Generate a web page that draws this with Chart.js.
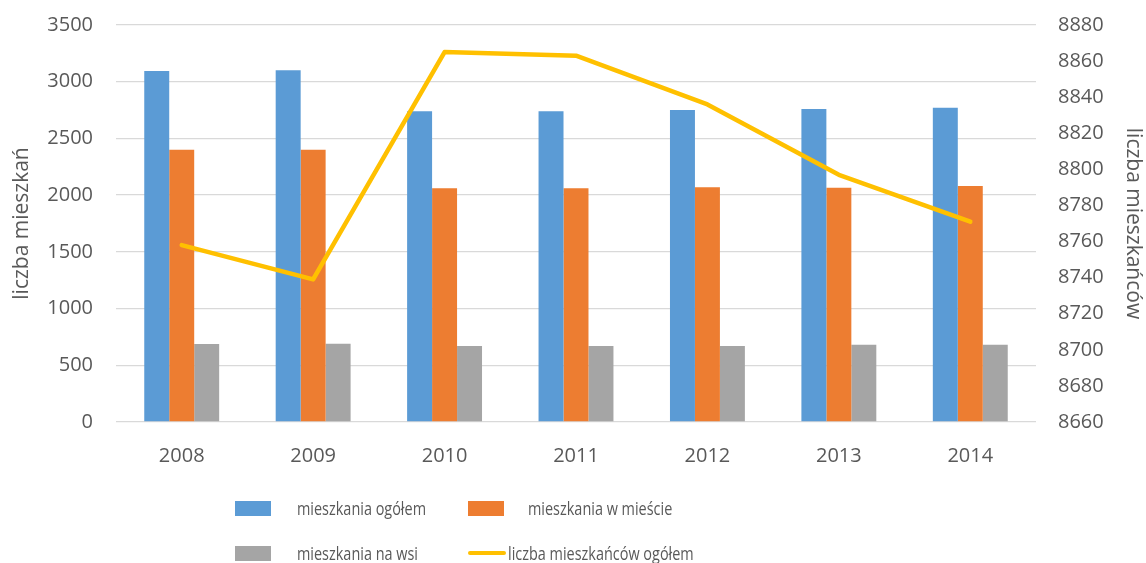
<!DOCTYPE html>
<html>
<head>
<meta charset="utf-8">
<script src="https://cdn.jsdelivr.net/npm/chart.js@4"></script>
<style>
  html, body { margin: 0; padding: 0; background: #fff; overflow: hidden; }
  #wrap { position: relative; width: 1146px; height: 563px; }
  #legend {
    position: absolute; left: 235px; top: 493px;
    display: grid; grid-template-columns: 233px 300px; grid-auto-rows: 45px;
    font-family: "Open Sans", sans-serif; font-size: 19px; color: #595959;
  }
  .item { display: flex; align-items: center; height: 30px; white-space: nowrap; }
  .sw { display: inline-block; width: 36px; height: 15px; margin-right: 26px; flex: none; }
  .ln { display: inline-block; width: 38px; height: 4px; border-radius: 2px; margin-right: 2px; flex: none; }
  .txt { display: inline-block; transform: scaleX(0.76); transform-origin: left center; }
</style>
</head>
<body>
<div id="wrap">
  <canvas id="myChart" width="1146" height="563"></canvas>
  <div id="legend"></div>
</div>
<script>
let years = ['2008', '2009', '2010', '2011', '2012', '2013', '2014']
let ogolem = [3095, 3100, 2740, 2740, 2750, 2760, 2770]
let wMiescie = [2400, 2400, 2060, 2060, 2070, 2065, 2080]
let naWsi = [688, 690, 671, 670, 670, 680, 680]
let mieszkancy = [8758, 8739, 8865, 8863, 8836, 8797, 8771]

let leftTicks = { min: 0, max: 3500, step: 500 }
let rightTicks = { min: 8660, max: 8880, step: 20 }

const grey = '#595959'
const tickFont = { family: 'Open Sans', size: 20 }
const plain = (v) => String(v)

const data = {
    labels: years,
    datasets: [{
        label: 'mieszkania ogółem',
        data: ogolem,
        backgroundColor: '#5B9BD5',
        yAxisID: 'y',
        order: 1
    }, {
        label: 'mieszkania w mieście',
        data: wMiescie,
        backgroundColor: '#ED7D31',
        yAxisID: 'y',
        order: 1
    }, {
        label: 'mieszkania na wsi',
        data: naWsi,
        backgroundColor: '#A5A5A5',
        yAxisID: 'y',
        order: 1
    }, {
        type: 'line',
        label: 'liczba mieszkańców ogółem',
        data: mieszkancy,
        borderColor: '#FFC000',
        backgroundColor: '#FFC000',
        borderWidth: 4.5,
        borderJoinStyle: 'round',
        borderCapStyle: 'round',
        pointRadius: 0,
        tension: 0,
        yAxisID: 'y1',
        order: 0
    }]
};

const config = {
    type: 'bar',
    data: data,
    options: {
        responsive: false,
        animation: false,
        barPercentage: 1,
        categoryPercentage: 0.57,
        layout: { padding: { top: 25, bottom: 91, left: 0, right: 0 } },
        plugins: { legend: { display: false }, tooltip: { enabled: false } },
        scales: {
            x: {
                grid: { display: false },
                border: { display: false },
                ticks: { color: grey, font: tickFont, padding: 14 },
                afterFit: (s) => { s.height = 50 }
            },
            y: {
                position: 'left',
                min: leftTicks.min, max: leftTicks.max,
                ticks: { stepSize: leftTicks.step, color: grey, font: tickFont, padding: 23, callback: plain },
                grid: { color: '#d9d9d9', lineWidth: 1.3, drawTicks: false },
                border: { display: false },
                title: { display: true, text: 'liczba mieszkań', color: grey, font: { family: 'Open Sans', size: 21 }, padding: { top: 9, bottom: 0 } },
                afterFit: (s) => { s.width = 116; s.paddingTop = 0; s.paddingBottom = 0 }
            },
            y1: {
                position: 'right',
                min: rightTicks.min, max: rightTicks.max,
                ticks: { stepSize: rightTicks.step, color: grey, font: tickFont, padding: 22, callback: plain },
                grid: { display: false, drawTicks: false },
                border: { display: false },
                title: { display: true, text: 'liczba mieszkańców', color: grey, font: { family: 'Open Sans', size: 21 }, padding: { top: 0, bottom: 0 } },
                afterFit: (s) => { s.width = 110; s.paddingTop = 0; s.paddingBottom = 0 }
            }
        }
    }
};

var ctx = document.getElementById("myChart");
var newmychart = new Chart(ctx, config);

// legend in two columns, like the original
let legend = document.getElementById("legend")
data.datasets.forEach((ds, i) => {
    let item = document.createElement('div')
    item.className = 'item'
    let mark = document.createElement('span')
    if (ds.type === 'line') {
        mark.className = 'ln'
        mark.style.background = ds.borderColor
    } else {
        mark.className = 'sw'
        mark.style.background = ds.backgroundColor
        if (i === 1) mark.style.marginRight = '24px'
    }
    let txt = document.createElement('span')
    txt.className = 'txt'
    txt.textContent = ds.label
    item.appendChild(mark)
    item.appendChild(txt)
    legend.appendChild(item)
})
</script>
</body>
</html>
